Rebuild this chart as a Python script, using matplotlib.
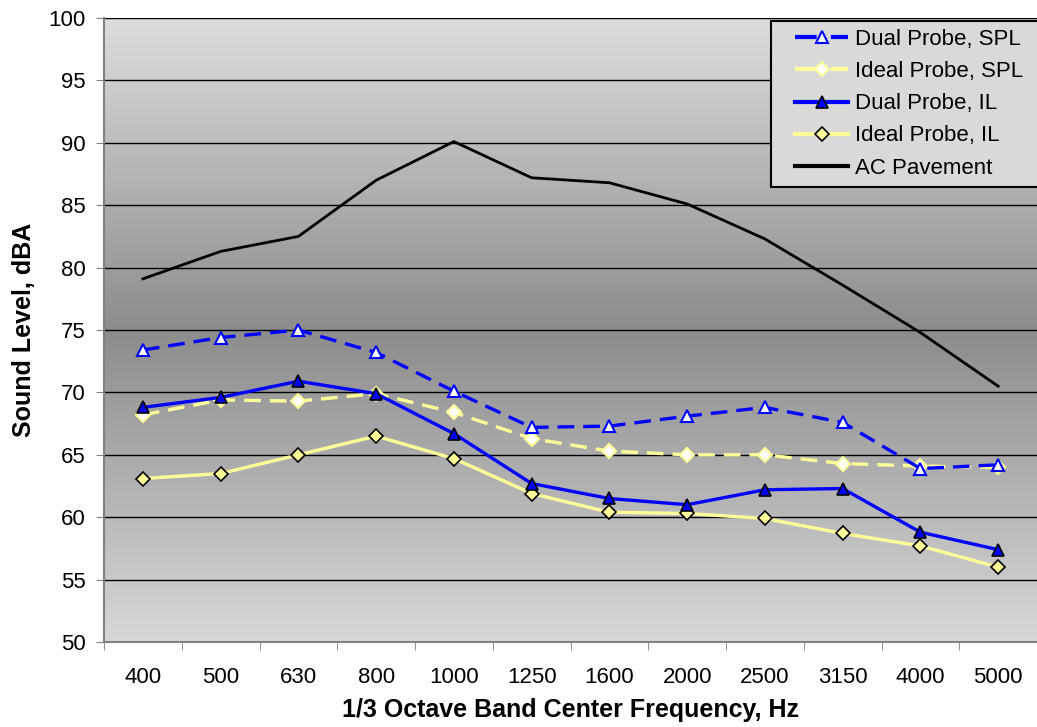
# Sound level vs 1/3 octave band, dual probe vs ideal probe
import numpy as np
import matplotlib
matplotlib.use("Agg")
import matplotlib.pyplot as plt
from matplotlib.patches import Rectangle
from matplotlib.colors import LinearSegmentedColormap

plt.rcParams['font.family'] = ['Liberation Sans', 'DejaVu Sans']

freqs = ["400", "500", "630", "800", "1000", "1250", "1600", "2000",
         "2500", "3150", "4000", "5000"]

dual_spl = [73.4, 74.4, 75.0, 73.2, 70.1, 67.2, 67.3, 68.1, 68.8, 67.6, 63.9, 64.2]
ideal_spl = [68.2, 69.4, 69.3, 69.9, 68.4, 66.3, 65.3, 65.0, 65.0, 64.3, 64.1, 64.0]
dual_il = [68.8, 69.6, 70.9, 69.9, 66.7, 62.7, 61.5, 61.0, 62.2, 62.3, 58.8, 57.4]
ideal_il = [63.1, 63.5, 65.0, 66.5, 64.7, 61.9, 60.4, 60.3, 59.9, 58.7, 57.7, 56.0]
ac_pavement = [79.1, 81.3, 82.5, 87.0, 90.1, 87.2, 86.8, 85.1, 82.3, 78.6, 74.8, 70.5]

x = np.arange(len(freqs))
blue = "#0000ff"
yellow = "#ffff99"
dash = (0, (5, 2.7))

fig = plt.figure(figsize=(10.37, 7.27), dpi=100)
ax = fig.add_axes([0.1003, 0.1169, 0.8997, 0.8583])

# gray gradient background (light - dark - light)
cmap = LinearSegmentedColormap.from_list("bg", ["#dddddd", "#8c8c8c", "#d8d8d8"])
grad = np.linspace(0, 1, 256).reshape(-1, 1)
ax.imshow(grad, cmap=cmap, aspect="auto", extent=[0, 1, 0, 1],
          transform=ax.transAxes, zorder=0)

for v in range(55, 101, 5):
    ax.axhline(v, color="black", lw=1, zorder=1)

ax.plot(x, dual_spl, color=blue, lw=2.4, ls=dash, marker="^", ms=9,
        mfc="white", mec=blue, mew=1.5, label="Dual Probe, SPL", zorder=4)
ax.plot(x, ideal_spl, color=yellow, lw=2.4, ls=dash, marker="D", ms=7,
        mfc="white", mec=yellow, mew=1.5, label="Ideal Probe, SPL", zorder=3)
ax.plot(x, dual_il, color=blue, lw=2.4, marker="^", ms=9,
        mfc=blue, mec="black", mew=1.2, label="Dual Probe, IL", zorder=4)
ax.plot(x, ideal_il, color=yellow, lw=2.4, marker="D", ms=7,
        mfc=yellow, mec="black", mew=1.2, label="Ideal Probe, IL", zorder=3)
ax.plot(x, ac_pavement, color="black", lw=2, label="AC Pavement", zorder=3)

ax.set_xlim(-0.5, len(freqs) - 0.5)
ax.set_ylim(50, 100)
ax.set_yticks(range(50, 101, 5))
ax.set_xticks(x)
ax.set_xticklabels(freqs)
ax.set_xticks(np.arange(-0.5, len(freqs), 1), minor=True)
ax.tick_params(axis="x", which="major", length=0, pad=18, labelsize=16)
ax.tick_params(axis="x", which="minor", length=6, color="#808080")
ax.tick_params(axis="y", length=6, color="#808080", labelsize=16, pad=7)

for side in ["top", "right"]:
    ax.spines[side].set_visible(False)
for side in ["left", "bottom"]:
    ax.spines[side].set_color("#808080")
    ax.spines[side].set_linewidth(1.5)

ax.set_xlabel("1/3 Octave Band Center Frequency, Hz", fontsize=18,
              fontweight="bold", labelpad=7)
ax.set_ylabel("Sound Level, dBA", fontsize=18, fontweight="bold", labelpad=9)

leg = ax.legend(loc="upper right", bbox_to_anchor=(0.997, 1.0), fontsize=16,
                frameon=False, handlelength=2.4, handletextpad=0.3,
                labelspacing=0.5, borderpad=0.0)
leg.set_zorder(11)
for ln in leg.get_lines():
    ln.set_linewidth(3)
    if ln.get_linestyle() != "-":
        ln.set_linestyle((0, (5.2, 3.4)))

# legend box, wider on the left than matplotlib's symmetric padding
fig.canvas.draw()
bb = leg.get_window_extent().transformed(fig.transFigure.inverted())
padl, padr, padv = 24 / 1037, 18 / 1037, 8 / 727
box = Rectangle((bb.x0 - padl, bb.y0 - padv), bb.width + padl + padr,
                bb.height + 2 * padv, transform=fig.transFigure,
                facecolor="#d9d9d9", edgecolor="black", lw=1.5, zorder=10)
ax.add_artist(box)
box.set_clip_on(False)

fig.savefig("out.png", dpi=100)
